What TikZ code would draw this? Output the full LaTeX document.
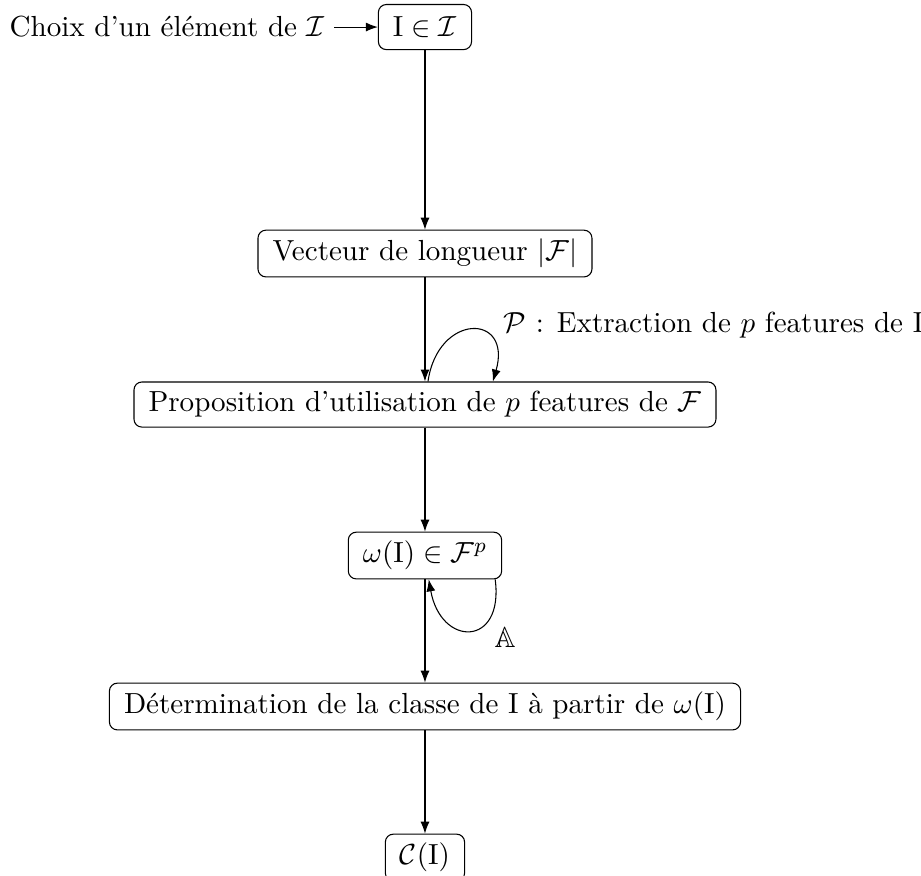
\documentclass[tikz,border=0pt]{standalone}
\usepackage{amsmath}
\usepackage{amssymb}
\usepackage{tikz}
\usetikzlibrary{
  arrows.meta,
  positioning
}
\tikzset{
  % Boites du schema
  etape/.style   = {draw, rounded corners=3pt, inner xsep=5.5pt,
                    minimum height=17pt},
  % Fleches
  fleche/.style  = {-{Latex[length=4.5pt,width=3.4pt]}},
  % Etiquettes
  lab/.style     = {inner sep=1pt},
}
\begin{document}
\begin{tikzpicture}[font=\fontsize{10.95pt}{13.6pt}\selectfont]
  % cadre de la figure
  \useasboundingbox (-5.629,0.358) rectangle (6.570,-11.232);
  % Noeuds
  \node[etape] (elt) at (0,0) {$\mathrm{I}\in\mathcal{I}$};
  \node (choix) [left=0.58cm of elt] {Choix d'un élément de $\mathcal{I}$};
  \node[etape] (vec) at (0,-3) {Vecteur de longueur $|\mathcal{F}|$};
  \node[etape] (prop) at (0,-5) {Proposition d'utilisation de $p$ features de $\mathcal{F}$};
  \node[etape] (om) at (0,-7) {$\omega(\mathrm{I})\in\mathcal{F}^p$};
  \node[etape] (det) at (0,-9) {Détermination de la classe de I à partir de $\omega(\mathrm{I})$};
  \node[etape] (cl) at (0,-11) {$\mathcal{C}(\mathrm{I})$};
  % Fleches
  \draw[fleche] (choix) -- (elt);
  \draw[fleche] (elt) -- (vec);
  \draw[fleche] (vec) -- (prop);
  \draw[fleche] (prop) -- (om);
  \draw[fleche] (om) -- (det);
  \draw[fleche] (det) -- (cl);
  % Boucles
  \draw[fleche] ([xshift=0.04cm]prop.north) .. controls +(0.13,0.91) and +(0.26,0.91) .. ([xshift=0.9cm]prop.north);
  \node[lab, anchor=west] (plab) at (1.0,-3.947) {$\mathcal{P}$ : Extraction de $p$ features de I};
  \draw[fleche] ([xshift=0.93cm]om.south) .. controls +(0.12,-0.9) and +(0.16,-0.9) .. ([xshift=0.05cm]om.south);
  \node[lab] (alab) at (1.06,-8.08) {$\mathbb{A}$};
\end{tikzpicture}
\end{document}
